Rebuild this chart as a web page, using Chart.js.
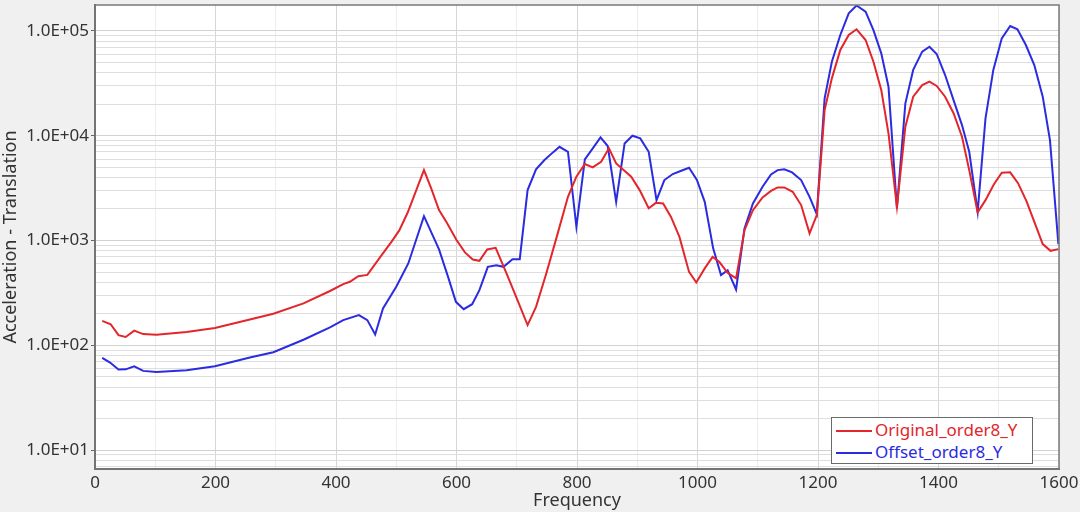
<!DOCTYPE html>
<html>
<head>
<meta charset="utf-8">
<script src="https://cdn.jsdelivr.net/npm/chart.js@4.4.1/dist/chart.umd.min.js"></script>
<style>
html, body { margin: 0; padding: 0; background: #f0f0f0; }
#wrap { position: relative; width: 1080px; height: 512px; }
#legend { position: absolute; left: 831px; top: 417px; width: 202px; height: 47px; box-sizing: border-box;
  border: 1px solid #6a6a6a; background: #fff; font: 17px "Noto Sans", sans-serif; }
#legend .row { position: absolute; left: 4px; height: 22px; line-height: 22px; white-space: nowrap; }
#legend .ln { display: inline-block; width: 36px; height: 2px; vertical-align: middle; margin-right: 3px; }
</style>
</head>
<body>
<div id="wrap">
  <canvas id="chart" width="1080" height="512"></canvas>
  <div id="legend">
    <div class="row" style="top:1px;color:#e3262b"><span class="ln" style="background:#e3262b"></span>Original_order8_Y</div>
    <div class="row" style="top:23px;color:#2b2be0"><span class="ln" style="background:#2b2be0"></span>Offset_order8_Y</div>
  </div>
</div>
<script>
const origFreq = [12, 26, 39, 51, 65, 80, 102, 152, 199, 257, 296, 346, 390, 412, 423, 437, 452, 473, 492, 505, 519, 532, 546,
  558, 571, 584, 600, 614, 627, 638, 651, 665, 683, 699, 718, 732, 749, 768, 785, 799, 813, 826, 840,
  853, 865, 890, 904, 919, 931, 943, 956, 970, 986, 998, 1012, 1025, 1036, 1050, 1064, 1078, 1092, 1108, 1122,
  1133, 1144, 1158, 1172, 1186, 1198, 1211, 1223, 1237, 1251, 1264, 1279, 1292, 1305, 1317, 1331, 1345, 1358, 1373, 1385,
  1397, 1411, 1425, 1439, 1451, 1465, 1478, 1492, 1505, 1519, 1532, 1546, 1560, 1573, 1586, 1599];
const origVal = [171, 159, 125, 120, 138, 128, 126, 134, 146, 176, 200, 251, 330, 384, 404, 457, 470, 690, 970, 1250, 1850, 2900, 4700,
  3150, 1950, 1476, 1010, 770, 659, 640, 822, 852, 485, 290, 156, 233, 485, 1170, 2612, 4066, 5370, 4990, 5650,
  7590, 5440, 4066, 3030, 2030, 2290, 2260, 1680, 1084, 502, 398, 542, 698, 627, 492, 435, 1256, 1950, 2577, 2980,
  3210, 3210, 2917, 2180, 1170, 1750, 17600, 35300, 65900, 91600, 103800, 82000, 50900, 27300, 10550, 2100, 12200, 23600, 30500, 32800,
  29900, 23600, 16400, 9780, 4700, 1860, 2430, 3450, 4440, 4480, 3530, 2380, 1456, 925, 798, 828];

const offsetFreq = [12, 25, 39, 51, 65, 80, 102, 152, 199, 257, 296, 346, 390, 412, 438, 452, 465, 478, 500, 520, 546, 571,
  586, 599, 612, 626, 638, 652, 666, 678, 693, 705, 718, 732, 746, 760, 771, 785, 799, 813, 825, 839,
  851, 865, 879, 892, 905, 919, 932, 945, 959, 973, 986, 999, 1012, 1026, 1039, 1050, 1064, 1078, 1092, 1108,
  1122, 1133, 1144, 1157, 1172, 1186, 1198, 1211, 1223, 1237, 1251, 1264, 1279, 1292, 1305, 1317, 1331, 1345, 1358, 1373,
  1385, 1397, 1411, 1425, 1439, 1451, 1465, 1478, 1491, 1505, 1519, 1531, 1545, 1559, 1573, 1585, 1599];
const offsetVal = [76, 68.5, 58.7, 59, 63, 57, 55.7, 57.8, 63, 76.4, 86, 113, 148, 174, 194, 174, 127, 225, 362, 604, 1710, 822,
  450, 260, 221, 247, 336, 561, 582, 561, 664, 664, 3030, 4780, 5860, 6940, 7850, 7030, 1352, 5960, 7410, 9660,
  7980, 2340, 8450, 10000, 9440, 7030, 2430, 3780, 4310, 4630, 4950, 3780, 2340, 842, 468, 521, 341, 1306, 2260, 3260,
  4280, 4700, 4780, 4470, 3780, 2612, 1787, 22750, 50900, 91600, 147500, 175000, 152700, 102000, 61200, 29400, 2030, 20400, 42500, 63500,
  70800, 60300, 38000, 21900, 12650, 7030, 1880, 14660, 42500, 85100, 111600, 103800, 73500, 47300, 23600, 9100, 925];

const xTicks = [0, 200, 400, 600, 800, 1000, 1200, 1400, 1600];
const yDecades = [1, 2, 3, 4, 5];

Chart.defaults.font.family = '"Noto Sans", sans-serif';

function isDecade(v) {
    const l = Math.log10(v);
    return Math.abs(l - Math.round(l)) < 1e-9;
}

// grey page, white plot area, thin frame round it
const plotFrame = {
    id: "plotFrame",
    beforeDraw(chart) {
        const { ctx, chartArea: a } = chart;
        ctx.save();
        ctx.fillStyle = "#f0f0f0";
        ctx.fillRect(0, 0, chart.width, chart.height);
        ctx.fillStyle = "#ffffff";
        ctx.fillRect(a.left, a.top, a.right - a.left, a.bottom - a.top);
        ctx.restore();
    },
    afterDraw(chart) {
        const { ctx, chartArea: a } = chart;
        ctx.save();
        ctx.strokeStyle = "#7a7a7a";
        ctx.lineWidth = 1.5;
        ctx.strokeRect(a.left, a.top, a.right - a.left, a.bottom - a.top);
        ctx.restore();
    }
};

new Chart(document.getElementById("chart"), {
    type: "line",
    data: {
        datasets: [{
            label: "Original_order8_Y",
            data: origFreq.map((f, i) => ({ x: f, y: origVal[i] })),
            borderColor: "#e3262b",
            borderWidth: 2,
            pointRadius: 0,
            tension: 0
        }, {
            label: "Offset_order8_Y",
            data: offsetFreq.map((f, i) => ({ x: f, y: offsetVal[i] })),
            borderColor: "#2b2be0",
            borderWidth: 2,
            pointRadius: 0,
            tension: 0
        }]
    },
    options: {
        responsive: false,
        animation: false,
        layout: { padding: { top: 5, right: 21, left: 0, bottom: 0 } },
        plugins: { legend: { display: false }, tooltip: { enabled: false } },
        scales: {
            x: {
                type: "linear",
                min: 0,
                max: 1600,
                afterBuildTicks: s => {
                    const t = [];
                    for (let v = 0; v <= 1600; v += 100) t.push({ value: v });
                    s.ticks = t;
                },
                ticks: {
                    autoSkip: false,
                    maxRotation: 0,
                    padding: 1,
                    color: "#333",
                    font: { size: 17 },
                    callback: v => xTicks.includes(v) ? String(v) : ""
                },
                grid: {
                    color: ctx => ctx.tick && xTicks.includes(ctx.tick.value) ? "#d6d6d6" : "#ededed",
                    tickLength: 3,
                    tickColor: "rgba(0,0,0,0)"
                },
                border: { color: "#666", width: 2 },
                title: { display: true, text: "Frequency", color: "#333", font: { size: 18 }, padding: 0 },
                afterFit: s => { s.height = 43; s.paddingLeft = 0; s.paddingRight = 0; }
            },
            y: {
                type: "logarithmic",
                min: 6.6,
                max: 177000,
                afterBuildTicks: s => {
                    const t = [];
                    for (let e = 0; e <= 5; e++) {
                        for (let m = 1; m <= 9; m++) {
                            const v = m * Math.pow(10, e);
                            if (v >= s.min && v <= s.max) t.push({ value: v, major: m === 1 });
                        }
                    }
                    s.ticks = t;
                },
                ticks: {
                    autoSkip: false,
                    padding: 2,
                    color: "#333",
                    font: { size: 17 },
                    callback: v => {
                        if (!isDecade(v)) return "";
                        const e = Math.round(Math.log10(v));
                        return yDecades.includes(e) ? "1.0E+" + String(e).padStart(2, "0") : "";
                    }
                },
                grid: {
                    color: ctx => ctx.tick && isDecade(ctx.tick.value) ? "#d2d2d2" : "#dedede",
                    tickLength: 4,
                    tickColor: ctx => ctx.tick && isDecade(ctx.tick.value) ? "#666" : "rgba(0,0,0,0)"
                },
                border: { color: "#666", width: 2 },
                title: { display: true, text: "Acceleration - Translation", color: "#333", font: { size: 18 }, padding: 0 },
                afterFit: s => { s.width = 95; s.paddingTop = 0; s.paddingBottom = 0; }
            }
        }
    },
    plugins: [plotFrame]
});
</script>
</body>
</html>
